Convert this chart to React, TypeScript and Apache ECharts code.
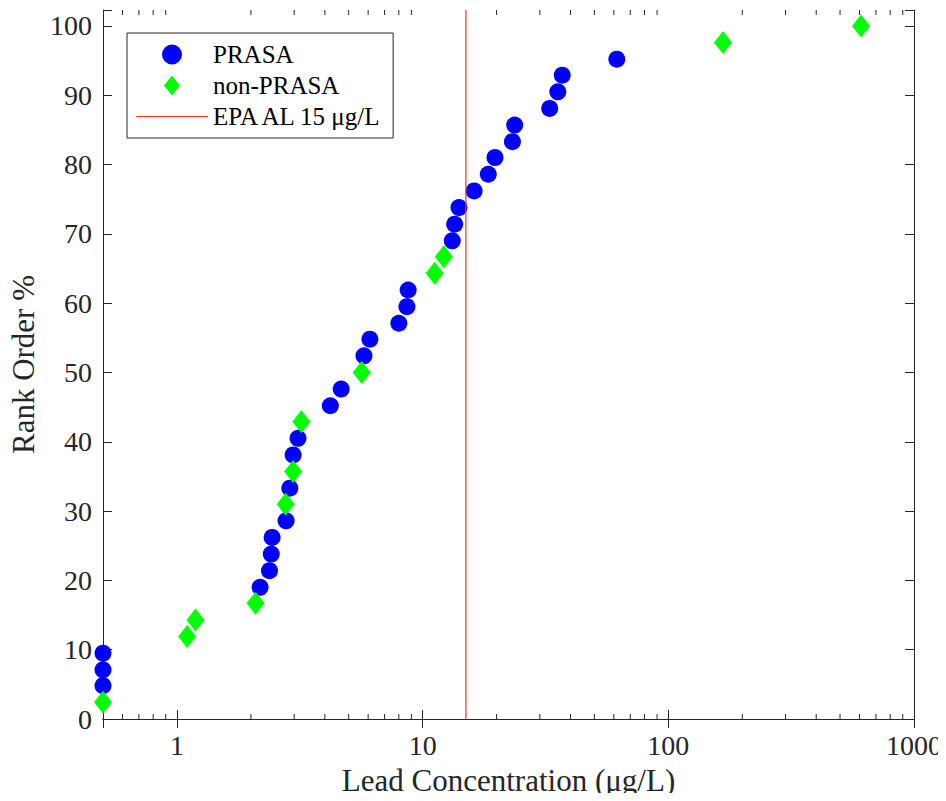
import React, { useEffect, useRef } from "react";
import * as echarts from "echarts";

const prasaX = [0.5, 0.5, 0.5, 2.18, 2.38, 2.42, 2.44, 2.78, 2.88, 2.97, 3.11, 4.21, 4.66, 5.77, 6.1, 8.0, 8.63, 8.73, 13.2, 13.5, 14.06, 16.2, 18.5, 19.7, 23.2, 23.7, 32.9, 35.5, 37.0, 61.7];
const prasaY = [4.8, 7.1, 9.5, 19.0, 21.4, 23.8, 26.2, 28.6, 33.3, 38.1, 40.5, 45.2, 47.6, 52.4, 54.8, 57.1, 59.5, 61.9, 69.0, 71.4, 73.8, 76.2, 78.6, 81.0, 83.3, 85.7, 88.1, 90.5, 92.9, 95.2];
const nonX = [0.5, 1.1, 1.19, 2.09, 2.77, 2.97, 3.21, 5.65, 11.2, 12.2, 167, 609];
const nonY = [2.4, 11.9, 14.3, 16.7, 31.0, 35.7, 42.9, 50.0, 64.3, 66.7, 97.6, 100];
const epaLimit = 15;
const xMin = 0.5;
const xMax = 1000;
const yMin = 0;
const yMax = 102.3;
const xMajorLabels = [1, 10, 100, 1000];
const minorTicks = [0.6, 0.7, 0.8, 0.9, 2, 3, 4, 5, 6, 7, 8, 9, 20, 30, 40, 50, 60, 70, 80, 90, 200, 300, 400, 500, 600, 700, 800, 900];

const FONT = "'Liberation Serif', 'Times New Roman', serif";
const AX = "#262626";
const BLUE = "#0000ff";
const GREEN = "#00ff00";
const RED = "#ff3030";

export default function App() {
  const ref = useRef<HTMLDivElement>(null);
  useEffect(() => {
    if (!ref.current) return;
    const chart = echarts.init(ref.current, null, { renderer: "svg" });
    const xLabelFmt = (v: number) => {
      const hit = xMajorLabels.find((m) => Math.abs(v - m) / m < 1e-6);
      return hit !== undefined ? String(hit) : "";
    };
    const yLabelFmt = (v: number) => (Math.abs(v % 10) < 1e-6 ? String(v) : "");
    const tickLine = () => ({ show: true, inside: true, length: 9, lineStyle: { color: AX, width: 1 } });
    const option: any = {
      animation: false,
      backgroundColor: "#ffffff",
      grid: { left: 102, right: 32, top: 10, bottom: 82, containLabel: false },
      xAxis: [
        {
          type: "log",
          logBase: 10,
          min: xMin,
          max: xMax,
          position: "bottom",
          axisLine: { show: true, lineStyle: { color: AX, width: 1 } },
          axisTick: tickLine(),
          axisLabel: { formatter: xLabelFmt, color: AX, fontFamily: FONT, fontSize: 28, margin: 12 },
          splitLine: { show: false },
          name: "Lead Concentration (μg/L)",
          nameLocation: "middle",
          nameGap: 46,
          nameTextStyle: { color: AX, fontFamily: FONT, fontSize: 31 },
        },
        {
          type: "log",
          logBase: 10,
          min: xMin,
          max: xMax,
          position: "top",
          axisLine: { show: true, lineStyle: { color: AX, width: 1 } },
          axisTick: tickLine(),
          axisLabel: { show: false },
          splitLine: { show: false },
        },
      ],
      yAxis: [
        {
          type: "value",
          min: yMin,
          max: yMax,
          interval: 10,
          position: "left",
          axisLine: { show: true, lineStyle: { color: AX, width: 1 } },
          axisTick: tickLine(),
          axisLabel: { formatter: yLabelFmt, color: AX, fontFamily: FONT, fontSize: 28, margin: 11 },
          splitLine: { show: false },
          name: "Rank Order %",
          nameLocation: "middle",
          nameGap: 64,
          nameTextStyle: { color: AX, fontFamily: FONT, fontSize: 31 },
        },
        {
          type: "value",
          min: yMin,
          max: yMax,
          interval: 10,
          position: "right",
          axisLine: { show: true, lineStyle: { color: AX, width: 1 } },
          axisTick: tickLine(),
          axisLabel: { show: false },
          splitLine: { show: false },
        },
      ],
      legend: {
        orient: "vertical",
        left: 127,
        top: 33,
        backgroundColor: "#ffffff",
        borderColor: AX,
        borderWidth: 1,
        padding: [9, 10, 9, 9],
        itemWidth: 72,
        itemHeight: 20,
        itemGap: 6,
        symbolKeepAspect: true,
        textStyle: { color: "#000000", fontFamily: FONT, fontSize: 25, lineHeight: 25 },
        data: [
          { name: "PRASA", icon: "path://M0,9 A9,9 0 1,1 18,9 A9,9 0 1,1 0,9 Z", itemStyle: { color: BLUE, opacity: 1 } },
          { name: "non-PRASA", icon: "path://M8,0 L16,10 L8,20 L0,10 Z", itemStyle: { color: GREEN, opacity: 1 } },
          { name: "EPA AL 15 μg/L", icon: "path://M0,0 L72,0 L72,1.2 L0,1.2 Z", itemStyle: { color: RED, opacity: 1, borderWidth: 0 } },
        ],
      },
      series: [
        {
          name: "minor-ticks",
          type: "custom",
          silent: true,
          clip: false,
          xAxisIndex: 0,
          yAxisIndex: 0,
          data: minorTicks.map((v) => [v, 0]),
          encode: { x: 0, y: 1 },
          renderItem: (_p: any, api: any) => {
            const v = api.value(0);
            const b = api.coord([v, yMin]);
            const t = api.coord([v, yMax]);
            const st = { stroke: AX, lineWidth: 1 };
            return {
              type: "group",
              children: [
                { type: "line", shape: { x1: b[0], y1: b[1], x2: b[0], y2: b[1] - 5 }, style: st },
                { type: "line", shape: { x1: t[0], y1: t[1], x2: t[0], y2: t[1] + 5 }, style: st },
              ],
            };
          },
          z: 1,
        },
        {
          name: "PRASA",
          type: "scatter",
          clip: false,
          symbol: "circle",
          symbolSize: 17,
          itemStyle: { color: BLUE, opacity: 1 },
          data: prasaX.map((x, i) => [x, prasaY[i]]),
          z: 3,
        },
        {
          name: "non-PRASA",
          type: "scatter",
          clip: false,
          symbol: "diamond",
          symbolSize: [18, 23],
          itemStyle: { color: GREEN, opacity: 1 },
          data: nonX.map((x, i) => [x, nonY[i]]),
          z: 3,
        },
        {
          name: "EPA AL 15 μg/L",
          type: "line",
          symbol: "none",
          showSymbol: false,
          lineStyle: { color: RED, width: 1.2 },
          itemStyle: { color: RED },
          data: [[epaLimit, yMin], [epaLimit, yMax]],
          z: 4,
        },
      ],
    };
    chart.setOption(option);
    return () => chart.dispose();
  }, []);
  return <div ref={ref} style={{ width: 946, height: 801, margin: -8 }} />;
}
